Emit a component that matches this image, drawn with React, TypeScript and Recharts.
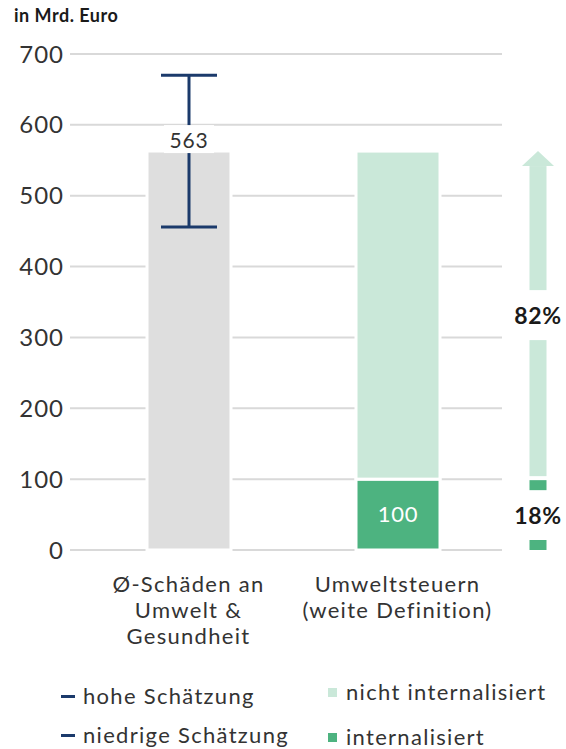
import { BarChart, Bar, XAxis, YAxis, CartesianGrid, ErrorBar, LabelList, Legend } from 'recharts'

const FONT = 'Lato, "Open Sans", sans-serif'
const TEXT = '#333333'
const NAVY = '#1b3a6b'
const GRAY = '#dedede'
const GREEN = '#4db380'
const LIGHT_GREEN = '#cae8d9'

const categories = ['Ø-Schäden an\nUmwelt &\nGesundheit', 'Umweltsteuern\n(weite Definition)']
const damages = [563, null]
const lowEstimate = [456, null]
const highEstimate = [670, null]
const internalized = [null, 100]
const notInternalized = [null, 463]
const yTicks = [0, 100, 200, 300, 400, 500, 600, 700]

const data = categories.map((name, i) => ({
    name,
    damages: damages[i],
    range: damages[i] != null ? [damages[i]! - lowEstimate[i]!, highEstimate[i]! - damages[i]!] : undefined,
    internalized: internalized[i],
    notInternalized: notInternalized[i],
}))

function shareOf(payload: any, key: string) {
    const total = (payload.internalized || 0) + (payload.notInternalized || 0)
    return Math.round((payload[key] / total) * 100)
}

const pctStyle = { fontWeight: 'bold' as const, fontSize: 23, fill: '#1a1a1a', fontFamily: FONT, letterSpacing: 0.6 }

// light green bar + the arrow with the share to the right
function OpenShape(props: any) {
    const { x, y, width, height, payload } = props
    if (!height) return null
    const cx = x + width / 2 + 140
    const bottom = y + height
    const mid = y + height / 2
    const shaftW = 17
    const headW = 32
    const headH = 15
    const gap = 25
    return (
        <g>
            <rect x={x} y={y} width={width} height={height} fill={LIGHT_GREEN} stroke="#fff" strokeWidth={3} />
            <polygon points={`${cx},${y} ${cx + headW / 2},${y + headH} ${cx - headW / 2},${y + headH}`} fill={LIGHT_GREEN} />
            <rect x={cx - shaftW / 2} y={y + headH} width={shaftW} height={mid - gap - y - headH} fill={LIGHT_GREEN} />
            <rect x={cx - shaftW / 2} y={mid + gap} width={shaftW} height={bottom - 3 - mid - gap} fill={LIGHT_GREEN} />
            <text x={cx} y={mid} textAnchor="middle" dominantBaseline="central" style={pctStyle}>
                {shareOf(payload, 'notInternalized')}%
            </text>
        </g>
    )
}

function InternalShape(props: any) {
    const { x, y, width, height, payload } = props
    if (!height) return null
    const cx = x + width / 2 + 140
    const bottom = y + height
    const mid = y + height / 2
    const shaftW = 17
    return (
        <g>
            <rect x={x} y={y} width={width} height={height} fill={GREEN} stroke="#fff" strokeWidth={3} />
            <rect x={cx - shaftW / 2} y={y + 1} width={shaftW} height={10} fill={GREEN} />
            <rect x={cx - shaftW / 2} y={bottom - 10} width={shaftW} height={10} fill={GREEN} />
            <text x={cx} y={mid} textAnchor="middle" dominantBaseline="central" style={pctStyle}>
                {shareOf(payload, 'internalized')}%
            </text>
        </g>
    )
}

function DamageLabel(props: any) {
    const { x, y, width, value } = props
    if (value == null) return null
    const cx = x + width / 2
    return (
        <g>
            <rect x={cx - 25} y={y - 26} width={50} height={28} fill="#fff" />
            <text x={cx} y={y - 12} textAnchor="middle" dominantBaseline="central" fontSize={21} fill={TEXT} fontFamily={FONT} letterSpacing={0.8}>
                {value}
            </text>
        </g>
    )
}

function CategoryTick(props: any) {
    const { x, y, payload } = props
    const lines = String(payload.value).split('\n')
    return (
        <g transform={`translate(${x},${y})`}>
            {lines.map((line, i) => (
                <text key={i} x={0} y={25 + i * 26} textAnchor="middle" dominantBaseline="central" fontSize={22} fill={TEXT} fontFamily={FONT} letterSpacing={1.3}>
                    {line}
                </text>
            ))}
        </g>
    )
}

function LegendContent() {
    const row = { position: 'absolute' as const, display: 'flex', alignItems: 'center', fontSize: 22, letterSpacing: 1.3, color: TEXT, fontFamily: FONT, whiteSpace: 'nowrap' as const, lineHeight: '26px' }
    const dash = { width: 14, height: 3, background: NAVY, marginRight: 8 }
    const square = (c: string) => ({ width: 9, height: 9, background: c, marginRight: 9 })
    return (
        <div style={{ position: 'relative', width: 566, height: 84 }}>
            <div style={{ ...row, left: 61, top: 18 }}><span style={dash} />hohe Schätzung</div>
            <div style={{ ...row, left: 61, top: 57 }}><span style={dash} />niedrige Schätzung</div>
            <div style={{ ...row, left: 328, top: 14 }}><span style={square(LIGHT_GREEN)} />nicht internalisiert</div>
            <div style={{ ...row, left: 328, top: 59 }}><span style={square(GREEN)} />internalisiert</div>
        </div>
    )
}

export default function App() {
    return (
        <div style={{ position: 'absolute', left: 0, top: 0, width: 566, height: 749, background: '#fff', fontFamily: FONT }}>
            <div style={{ position: 'absolute', left: 14, top: 4, fontSize: 18, fontWeight: 'bold', color: '#1a1a1a', letterSpacing: 0.5, lineHeight: 'normal' }}>in Mrd. Euro</div>
            <BarChart width={566} height={749} data={data} margin={{ top: 54, right: 64, bottom: 0, left: 0 }} barSize={84}>
                <CartesianGrid vertical={false} stroke="#d9d9d9" strokeWidth={2} />
                <XAxis
                    dataKey="name"
                    axisLine={false}
                    tickLine={false}
                    interval={0}
                    height={115}
                    padding={{ left: 14, right: 0 }}
                    tick={<CategoryTick />}
                />
                <YAxis
                    domain={[0, 700]}
                    ticks={yTicks}
                    width={70}
                    axisLine={false}
                    tickLine={false}
                    tickMargin={0}
                    tick={{ fill: TEXT, fontSize: 24, fontFamily: FONT, letterSpacing: 1 }}
                />
                <Legend verticalAlign="bottom" height={84} wrapperStyle={{ left: 0, width: 566 }} content={<LegendContent />} />
                <Bar dataKey="damages" stackId="a" fill={GRAY} stroke="#fff" strokeWidth={3} isAnimationActive={false}>
                    <ErrorBar dataKey="range" width={28} stroke={NAVY} strokeWidth={3} direction="y" />
                    <LabelList dataKey="damages" content={<DamageLabel />} />
                </Bar>
                <Bar dataKey="internalized" stackId="a" fill={GREEN} shape={<InternalShape />} isAnimationActive={false}>
                    <LabelList dataKey="internalized" position="center" fill="#fff" fontSize={22} fontFamily={FONT} letterSpacing={0.8} />
                </Bar>
                <Bar dataKey="notInternalized" stackId="a" fill={LIGHT_GREEN} shape={<OpenShape />} isAnimationActive={false} />
            </BarChart>
        </div>
    )
}
